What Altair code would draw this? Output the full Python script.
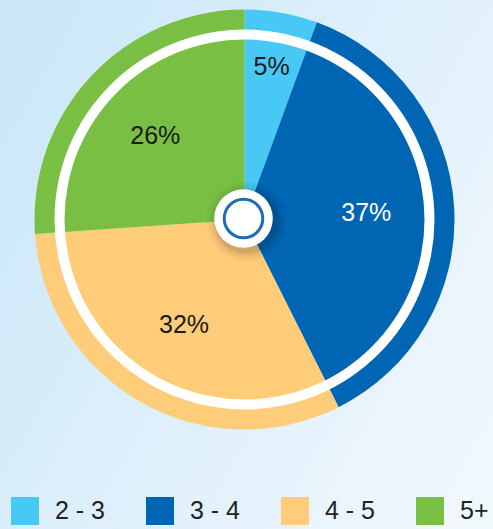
import math
import altair as alt
import pandas as pd

# ---- data ----
categories = ["2 - 3", "3 - 4", "4 - 5", "5+"]
shares = [5.6, 37.0, 31.3, 26.1]
labels = ["5%", "37%", "32%", "26%"]
colors = ["#48C8F5", "#0066B3", "#FFCC7A", "#78BF43"]

W, H = 493, 529
CX, CY = 244.5, 219.5
TWO_PI = 2 * math.pi

df = pd.DataFrame({
    "cat": categories,
    "share": shares,
    "label": labels,
    "idx": list(range(len(categories))),
})
one = pd.DataFrame({"k": [0]})

bg = alt.Chart(one).mark_rect(
    fill=alt.LinearGradient(
        gradient="linear",
        stops=[alt.GradientStop(color="#CCE8F9", offset=0),
               alt.GradientStop(color="#F0F7FD", offset=1)],
        x1=0, x2=1, y1=0.2, y2=0.8,
    )
).encode(x=alt.value(0), x2=alt.value(W), y=alt.value(0), y2=alt.value(H))

pie = alt.Chart(df).mark_arc(radius=210).encode(
    x=alt.value(CX), y=alt.value(CY),
    theta=alt.Theta("share:Q", stack=True),
    order=alt.Order("idx:Q"),
    color=alt.Color(
        "cat:N",
        scale=alt.Scale(domain=categories, range=colors),
        legend=alt.Legend(
            orient="none", legendX=11, legendY=497, direction="horizontal",
            title=None, symbolType="square", symbolSize=784,
            symbolStrokeWidth=0, symbolOpacity=1,
            labelFontSize=25, labelFont="Liberation Sans", labelColor="#222222",
            labelOffset=16, columnPadding=40,
        ),
    ),
)

ring = alt.Chart(one).mark_arc(
    radius=190, radius2=180, theta=0, theta2=TWO_PI, color="white"
).encode(x=alt.value(CX), y=alt.value(CY))

shadow_layers = []
for r, op in [(40, 0.03), (37, 0.04), (34, 0.05), (32, 0.07)]:
    shadow_layers.append(
        alt.Chart(one).mark_arc(radius=r, theta=0, theta2=TWO_PI, color="black", opacity=op)
        .encode(x=alt.value(CX + 2), y=alt.value(CY + 2))
    )

hub = alt.Chart(one).mark_arc(
    radius=29.3, theta=0, theta2=TWO_PI, color="white"
).encode(x=alt.value(CX - 1), y=alt.value(CY - 1))

hub_ring = alt.Chart(one).mark_arc(
    radius=20.8, radius2=17.8, theta=0, theta2=TWO_PI, color="#1A6DB8"
).encode(x=alt.value(CX - 1), y=alt.value(CY - 1))

text = alt.Chart(df).transform_window(
    cum="sum(share)", sort=[alt.SortField("idx")], frame=[None, 0]
).transform_calculate(
    mid="datum.cum - datum.share / 2",
    lr="datum.share < 10 ? 155 : 122",
    tc="datum.cat == '3 - 4' ? '#FFFFFF' : '#1A1A1A'",
).mark_text(font="Liberation Sans", fontSize=25, baseline="middle", align="center").encode(
    x=alt.value(CX), y=alt.value(CY),
    theta=alt.Theta("mid:Q", stack=None),
    radius=alt.Radius("lr:Q", scale=None),
    text="label:N",
    color=alt.Color("tc:N", scale=None),
)

chart = alt.layer(bg, pie, ring, *shadow_layers, hub, hub_ring, text).properties(
    width=W, height=H,
    autosize=alt.AutoSizeParams(type="none"),
    padding=0,
).configure_view(stroke=None).resolve_scale(color="independent")

chart.save("out.html", embed_options={"renderer": "svg", "actions": False})
